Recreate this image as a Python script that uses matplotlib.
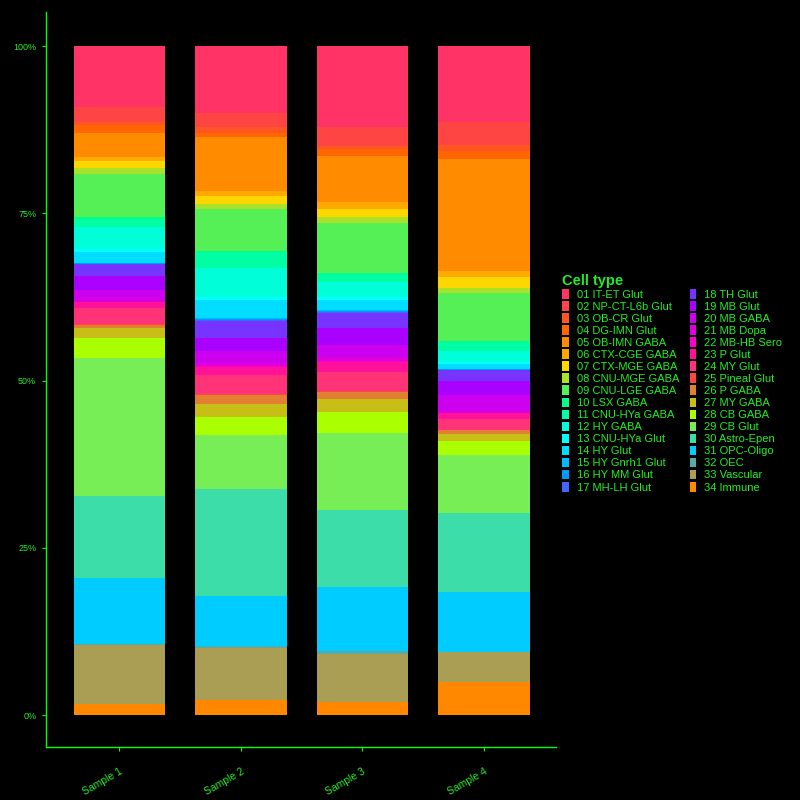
import numpy as np
import matplotlib.pyplot as plt

plt.rcParams['font.family'] = ['Liberation Sans', 'DejaVu Sans']

samples = ['Sample 1', 'Sample 2', 'Sample 3', 'Sample 4']

cell_types = ['01 IT-ET Glut', '02 NP-CT-L6b Glut', '03 OB-CR Glut', '04 DG-IMN Glut',
              '05 OB-IMN GABA', '06 CTX-CGE GABA', '07 CTX-MGE GABA', '08 CNU-MGE GABA',
              '09 CNU-LGE GABA', '10 LSX GABA', '11 CNU-HYa GABA', '12 HY GABA',
              '13 CNU-HYa Glut', '14 HY Glut', '15 HY Gnrh1 Glut', '16 HY MM Glut',
              '17 MH-LH Glut', '18 TH Glut', '19 MB Glut', '20 MB GABA', '21 MB Dopa',
              '22 MB-HB Sero', '23 P Glut', '24 MY Glut', '25 Pineal Glut', '26 P GABA',
              '27 MY GABA', '28 CB GABA', '29 CB Glut', '30 Astro-Epen', '31 OPC-Oligo',
              '32 OEC', '33 Vascular', '34 Immune']

colors = ['#FF3366', '#FF4444', '#FF5522', '#FF6600', '#FF8C00', '#FFAA00', '#FFD700',
          '#AAE22A', '#55F055', '#00FF88', '#00FFA5', '#00FFD8', '#00FFFF', '#00DDFF',
          '#00BBFF', '#0099FF', '#4466FF', '#7733FF', '#AA00FF', '#CC00EE', '#DD00DD',
          '#FF00CC', '#FF1199', '#FF3377', '#FF4444', '#E08030', '#C8BE18', '#AAFF00',
          '#77EE55', '#3DDDAA', '#00CCFF', '#55AAAA', '#AA9E55', '#FF8800']

# percent of cells per type, 01 -> 34
s1 = [9.17, 2.15, 0.54, 1.15, 3.54, 0.60, 1.09, 0.85, 6.48, 0.34, 1.20, 3.25,
      0.45, 1.64, 0.08, 0.08, 0.05, 1.75, 2.14, 1.35, 0.34, 0.05, 0.96, 2.39,
      0.03, 0.45, 1.64, 2.99, 20.53, 12.26, 10.02, 0.15, 8.82, 1.60]
s2 = [9.97, 2.09, 0.94, 0.60, 8.08, 0.75, 1.20, 0.79, 6.24, 0.15, 2.35, 4.34,
      0.49, 2.65, 0.20, 0.19, 0.10, 2.50, 2.09, 1.73, 0.51, 0.10, 1.24, 2.80,
      0.10, 1.35, 1.94, 2.69, 8.08, 16.00, 7.58, 0.30, 7.78, 2.24]
s3 = [12.16, 2.75, 0.54, 1.00, 6.88, 1.05, 1.20, 0.94, 7.43, 0.20, 1.15, 2.24,
      0.55, 1.39, 0.20, 0.20, 0.10, 2.20, 2.54, 1.90, 0.60, 0.10, 1.54, 2.84,
      0.10, 1.00, 1.99, 3.10, 11.56, 11.51, 9.57, 0.45, 7.28, 1.94]
s4 = [11.37, 3.44, 0.90, 1.20, 16.90, 0.90, 1.64, 0.75, 7.13, 0.20, 1.30, 1.73,
      0.25, 0.75, 0.05, 0.05, 0.05, 1.64, 2.09, 2.50, 0.20, 0.05, 0.90, 1.64,
      0.05, 0.60, 1.05, 2.09, 8.67, 11.81, 9.02, 0.05, 4.55, 4.93]

green = '#22EE22'

data = np.array([s1, s2, s3, s4])
data = data / data.sum(axis=1, keepdims=True) * 100

fig = plt.figure(figsize=(8, 8), dpi=100, facecolor='black')
ax = fig.add_axes([0.0575, 0.066, 0.6375, 0.919])
ax.set_facecolor('black')

x = np.arange(len(samples))
handles = {}
bottom = np.zeros(len(samples))
# stack from 34 (bottom) up to 01 (top)
for i in range(len(cell_types) - 1, -1, -1):
    b = ax.bar(x, data[:, i], bottom=bottom, width=0.75, color=colors[i],
               label=cell_types[i], linewidth=0)
    handles[i] = b
    bottom += data[:, i]

ax.set_xlim(-0.605, 3.593)
ax.set_ylim(-4.8, 105.1)
ax.set_yticks([0, 25, 50, 75, 100])
ax.set_yticklabels(['0%', '25%', '50%', '75%', '100%'])
ax.set_xticks(x)
ax.set_xticklabels(samples, rotation=30, ha='right', rotation_mode='anchor')

for s in ['top', 'right']:
    ax.spines[s].set_visible(False)
for s in ['left', 'bottom']:
    ax.spines[s].set_color('#00FF00')
    ax.spines[s].set_linewidth(1)
ax.tick_params(axis='y', colors='#00FF00', labelcolor=green, labelsize=6.5, length=3, pad=4)
ax.tick_params(axis='x', colors='#00FF00', labelcolor=green, labelsize=7.5, length=3, pad=11)

leg = fig.legend([handles[i] for i in range(len(cell_types))], cell_types,
                 loc='upper left', bbox_to_anchor=(0.703, 0.658), ncol=2,
                 frameon=False, title='Cell type', alignment='left',
                 fontsize=8, handlelength=0.55, handleheight=0.95,
                 handletextpad=0.75, labelspacing=0.13, columnspacing=0.95,
                 borderpad=0, borderaxespad=0)
for t in leg.get_texts():
    t.set_color(green)
leg.get_title().set_color(green)
leg.get_title().set_fontweight('bold')
leg.get_title().set_fontsize(10.5)

fig.savefig('out.png', dpi=100, facecolor='black')
